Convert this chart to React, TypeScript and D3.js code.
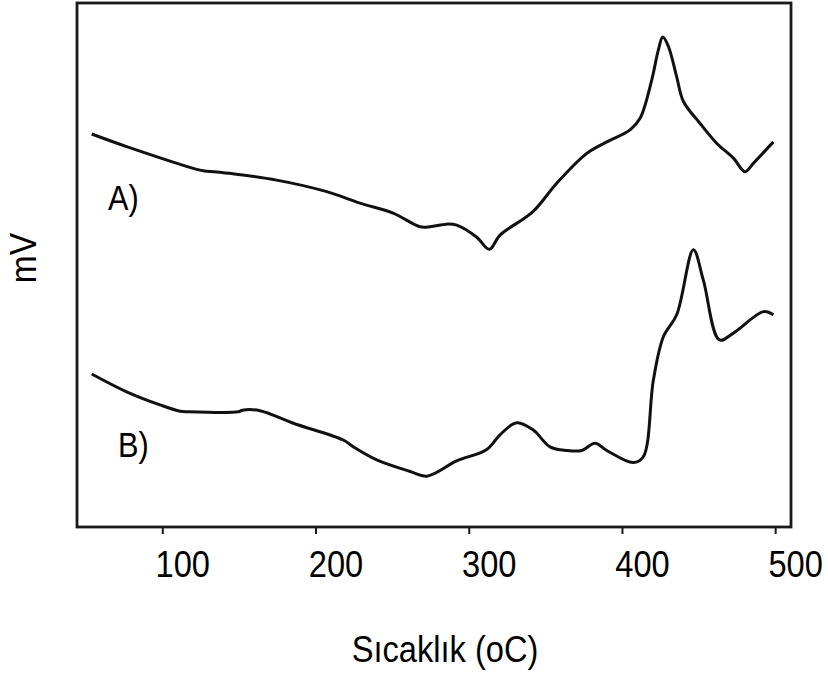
import React from "react";
import * as d3 from "d3";

// Temperature (°C) and signal (arbitrary mV units, 0–100 over the plot height)
const tempA = [53.6, 76.4, 124.3, 126.4, 145.8, 174.3, 207.0, 228.7, 250.3, 267.9, 274.4, 285.3, 291.8, 304.9, 313.1, 320.1, 341.6, 357.1, 376.7, 389.8, 405.0, 411.5, 419.1, 423.4, 426.3, 430.0, 435.4, 439.8, 450.7, 461.6, 472.4, 480.0, 485.4, 498.5];
const mvA = [75.0, 72.6, 68.1, 68.0, 67.4, 66.2, 64.0, 61.8, 59.9, 57.3, 57.3, 57.8, 57.6, 55.3, 53.0, 55.7, 60.2, 65.6, 71.3, 73.5, 75.8, 78.0, 85.3, 91.0, 93.5, 91.7, 85.9, 81.2, 77.0, 73.2, 70.4, 67.8, 69.4, 73.5];

const tempB = [53.6, 76.4, 98.2, 111.2, 116.6, 149.3, 152.0, 163.4, 185.2, 217.8, 224.3, 239.6, 261.4, 272.3, 291.8, 311.4, 320.1, 331.0, 341.8, 352.7, 363.6, 373.4, 382.1, 389.8, 407.1, 413.6, 420.2, 426.7, 435.4, 446.3, 452.8, 463.3, 472.4, 492.0, 498.5];
const mvB = [29.2, 25.8, 23.3, 22.1, 22.0, 22.0, 22.3, 22.2, 19.8, 16.6, 15.3, 12.8, 10.6, 9.7, 12.6, 14.8, 17.6, 19.9, 18.5, 15.3, 14.6, 14.6, 16.0, 14.6, 12.3, 13.4, 28.1, 36.3, 40.5, 52.9, 47.1, 35.7, 37.0, 41.1, 40.5];

const xTicks = [100, 200, 300, 400, 500];
const seriesLabels = ["A)", "B)"];
const xTitle = "Sıcaklık (oC)";
const yTitle = "mV";

const W = 828;
const H = 677;
const left = 77, right = 791, top = 3, bottom = 527;

export default function App() {
  const x = d3.scaleLinear().domain([44, 510]).range([left, right]);
  const y = d3.scaleLinear().domain([0, 100]).range([bottom, top]);
  const line = d3
    .line<[number, number]>()
    .x((d) => x(d[0]))
    .y((d) => y(d[1]))
    .curve(d3.curveCatmullRom.alpha(0.5));
  const dataA: [number, number][] = tempA.map((t, i) => [t, mvA[i]]);
  const dataB: [number, number][] = tempB.map((t, i) => [t, mvB[i]]);
  const font = "'Liberation Sans', Arial, sans-serif";
  const tall = (cx: number, cy: number) =>
    `translate(${cx},${cy}) scale(0.96,1.08) translate(${-cx},${-cy})`;
  return (
    <svg
      width={W}
      height={H}
      style={{ position: "absolute", left: 0, top: 0, background: "#fff" }}
    >
      <path d={line(dataA) || ""} fill="none" stroke="#111" strokeWidth={3} strokeLinejoin="round" />
      <path d={line(dataB) || ""} fill="none" stroke="#111" strokeWidth={3} strokeLinejoin="round" />
      <rect
        x={left}
        y={top}
        width={right - left}
        height={bottom - top}
        fill="none"
        stroke="#1a1a1a"
        strokeWidth={2.8}
      />
      {xTicks.map((t) => (
        <g key={t}>
          <line x1={x(t)} x2={x(t)} y1={bottom} y2={bottom + 7} stroke="#1a1a1a" strokeWidth={2} />
          <text
            x={x(t) + 20}
            y={577}
            textAnchor="middle"
            fontFamily={font}
            fontSize={34}
            fill="#000"
            transform={tall(x(t) + 20, 577)}
          >
            {t}
          </text>
        </g>
      ))}
      <text x={108} y={210} fontFamily={font} fontSize={32} fill="#000" transform={tall(108, 210)}>
        {seriesLabels[0]}
      </text>
      <text x={118} y={457} fontFamily={font} fontSize={32} fill="#000" transform={tall(118, 457)}>
        {seriesLabels[1]}
      </text>
      <text
        x={445}
        y={662}
        textAnchor="middle"
        fontFamily={font}
        fontSize={34}
        fill="#000"
        transform={tall(445, 662)}
      >
        {xTitle}
      </text>
      <text
        transform="translate(36,258) rotate(-90) scale(0.96,1.08)"
        textAnchor="middle"
        fontFamily={font}
        fontSize={35}
        fill="#000"
      >
        {yTitle}
      </text>
    </svg>
  );
}
